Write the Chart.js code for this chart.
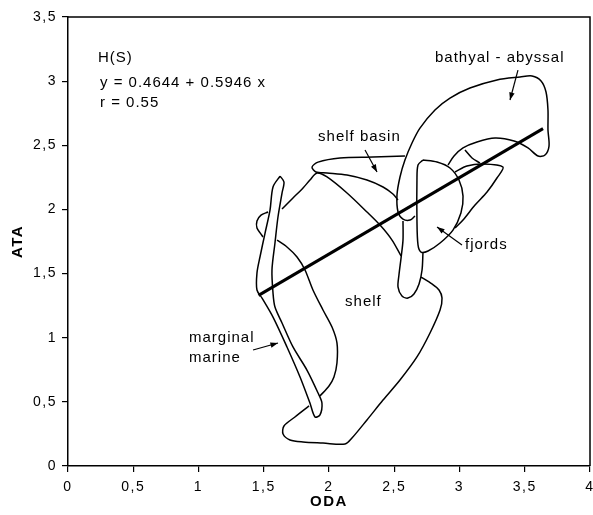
<!DOCTYPE html>
<html>
<head>
<meta charset="utf-8">
<script src="https://cdn.jsdelivr.net/npm/chart.js@4.4.1/dist/chart.umd.min.js"></script>
<style>
    html, body { margin: 0; padding: 0; background: #fff; }
    #grafico { display: block; }
</style>
</head>
<body>
<canvas id="grafico" width="593" height="515"></canvas>
<script>
// Contornos de los campos (ODA, ATA)
const marginalMarine = [
    [1.625, 2.260], [1.571, 2.175], [1.548, 1.995], [1.510, 1.816], [1.471, 1.629],
    [1.448, 1.504], [1.448, 1.372], [1.487, 1.309], [1.571, 1.161], [1.678, 0.928],
    [1.778, 0.694], [1.854, 0.491], [1.893, 0.382], [1.931, 0.398], [1.946, 0.491],
    [1.916, 0.569], [1.831, 0.748], [1.724, 0.928], [1.640, 1.115], [1.586, 1.239],
    [1.571, 1.348], [1.563, 1.528], [1.586, 1.738], [1.609, 1.941], [1.640, 2.128],
    [1.655, 2.214], [1.625, 2.260]
];
const shelfBump = [
    [1.533, 1.980], [1.479, 1.956], [1.448, 1.910], [1.448, 1.855], [1.479, 1.808], [1.494, 1.785]
];
const shelfUpper = [
    [1.640, 2.003], [1.724, 2.089], [1.801, 2.167], [1.854, 2.229], [1.908, 2.284],
    [1.985, 2.253], [2.138, 2.128], [2.291, 1.980], [2.391, 1.878], [2.483, 1.761], [2.552, 1.637]
];
const shelfLobe = [
    [2.567, 1.910], [2.567, 1.761], [2.552, 1.621], [2.536, 1.489], [2.529, 1.395],
    [2.559, 1.325], [2.605, 1.309], [2.651, 1.341], [2.690, 1.419], [2.713, 1.528], [2.720, 1.660]
];
const shelfLower = [
    [2.705, 1.473], [2.789, 1.419], [2.843, 1.372], [2.866, 1.309], [2.851, 1.216],
    [2.774, 1.037], [2.674, 0.850], [2.544, 0.670], [2.414, 0.514], [2.291, 0.359],
    [2.176, 0.218], [2.123, 0.171], [1.954, 0.179], [1.801, 0.187], [1.701, 0.203],
    [1.648, 0.249], [1.655, 0.312], [1.739, 0.382], [1.847, 0.468]
];
const shelfInner = [
    [1.931, 0.546], [2.000, 0.624], [2.038, 0.694], [2.061, 0.803], [2.061, 0.959],
    [2.023, 1.083], [1.954, 1.216], [1.877, 1.372], [1.816, 1.528], [1.755, 1.629],
    [1.678, 1.707], [1.602, 1.761]
];
const shelfBasin = [
    [2.582, 2.416], [2.337, 2.408], [2.084, 2.401], [1.916, 2.369], [1.870, 2.330],
    [1.900, 2.292], [1.985, 2.284], [2.138, 2.268], [2.291, 2.229], [2.414, 2.175],
    [2.490, 2.120], [2.529, 2.073]
];
const bathyal = [
    [2.659, 1.949], [2.621, 1.917], [2.567, 1.925], [2.529, 1.980], [2.521, 2.112],
    [2.544, 2.253], [2.582, 2.385], [2.636, 2.518], [2.697, 2.634], [2.812, 2.775],
    [2.927, 2.868], [3.080, 2.946], [3.287, 3.009], [3.464, 3.032], [3.556, 3.040],
    [3.625, 3.001], [3.663, 2.915], [3.678, 2.775], [3.678, 2.619], [3.686, 2.494],
    [3.655, 2.424], [3.602, 2.416], [3.525, 2.479], [3.418, 2.533], [3.272, 2.556],
    [3.134, 2.525], [3.027, 2.479], [2.958, 2.416], [2.912, 2.346]
];
const fjords = [
    [2.720, 2.385], [2.828, 2.369], [2.927, 2.323], [2.996, 2.229], [3.027, 2.104],
    [3.011, 1.972], [2.950, 1.839], [2.851, 1.738], [2.759, 1.676], [2.705, 1.668],
    [2.682, 1.723], [2.674, 1.917], [2.674, 2.229], [2.682, 2.346], [2.720, 2.385]
];
const wedge = [
    [2.966, 2.292], [3.057, 2.338], [3.180, 2.354], [3.333, 2.330], [3.287, 2.245],
    [3.211, 2.136], [3.119, 2.034], [3.027, 1.917], [2.966, 1.855]
];
const wedgeCross = [[3.042, 2.463], [3.096, 2.401], [3.157, 2.362]];

// Recta de regresion (extremos leidos)
const regression = [[1.46, 1.33], [3.64, 2.63]];

// Textos y flechas, en unidades de los ejes
const textos = [
    { texto: 'H(S)', x: 0.230, y: 3.180 },
    { texto: 'y = 0.4644 + 0.5946 x', x: 0.245, y: 2.985 },
    { texto: 'r = 0.55', x: 0.245, y: 2.829 },
    { texto: 'bathyal - abyssal', x: 2.812, y: 3.180 },
    { texto: 'shelf basin', x: 1.916, y: 2.564 },
    { texto: 'fjords', x: 3.042, y: 1.723 },
    { texto: 'shelf', x: 2.123, y: 1.278 },
    { texto: 'marginal', x: 0.927, y: 0.998 },
    { texto: 'marine', x: 0.927, y: 0.842 }
];
const flechas = [
    [3.448, 3.086, 3.387, 2.853],
    [2.276, 2.463, 2.368, 2.292],
    [3.019, 1.723, 2.828, 1.863],
    [1.418, 0.904, 1.609, 0.959]
];

function contorno(puntos, ancho, tension) {
    return {
        data: puntos.map(([x, y]) => ({ x: x, y: y })),
        showLine: true,
        fill: false,
        borderColor: '#000',
        borderWidth: ancho,
        pointRadius: 0,
        tension: tension
    };
}

function flecha(ctx, x1, y1, x2, y2) {
    const ang = Math.atan2(y2 - y1, x2 - x1);
    ctx.beginPath();
    ctx.moveTo(x1, y1);
    ctx.lineTo(x2, y2);
    ctx.stroke();
    ctx.beginPath();
    ctx.moveTo(x2, y2);
    ctx.lineTo(x2 - 8 * Math.cos(ang - 0.35), y2 - 8 * Math.sin(ang - 0.35));
    ctx.lineTo(x2 - 8 * Math.cos(ang + 0.35), y2 - 8 * Math.sin(ang + 0.35));
    ctx.closePath();
    ctx.fill();
}

const anotaciones = {
    id: 'anotaciones',
    beforeDraw(chart) {
        chart.ctx.letterSpacing = '1.5px';
    },
    afterDatasetsDraw(chart) {
        const { ctx, chartArea: a, scales: { x, y } } = chart;
        ctx.save();
        // marco superior y derecho
        ctx.strokeStyle = '#000';
        ctx.lineWidth = 1.5;
        ctx.beginPath();
        ctx.moveTo(a.left, a.top);
        ctx.lineTo(a.right, a.top);
        ctx.lineTo(a.right, a.bottom);
        ctx.stroke();

        ctx.fillStyle = '#000';
        ctx.font = '15px "Liberation Sans", Arial, sans-serif';
        ctx.letterSpacing = '1px';
        ctx.textBaseline = 'middle';
        ctx.textAlign = 'left';
        textos.forEach(t => ctx.fillText(t.texto, x.getPixelForValue(t.x), y.getPixelForValue(t.y)));

        ctx.lineWidth = 1.2;
        flechas.forEach(f => flecha(ctx,
            x.getPixelForValue(f[0]), y.getPixelForValue(f[1]),
            x.getPixelForValue(f[2]), y.getPixelForValue(f[3])));
        ctx.restore();
    }
};

const coma = v => String(v).replace('.', ',');

new Chart(document.getElementById('grafico').getContext('2d'), {
    type: 'scatter',
    data: {
        datasets: [
            contorno(marginalMarine, 1.5, 0.3),
            contorno(shelfBump, 1.5, 0.3),
            contorno(shelfUpper, 1.5, 0.3),
            contorno(shelfLobe, 1.5, 0.3),
            contorno(shelfLower, 1.5, 0.3),
            contorno(shelfInner, 1.5, 0.3),
            contorno(shelfBasin, 1.5, 0.3),
            contorno(bathyal, 1.5, 0.3),
            contorno(fjords, 1.5, 0.3),
            contorno(wedge, 1.5, 0.3),
            contorno(wedgeCross, 1.5, 0.3),
            contorno(regression, 3, 0)
        ]
    },
    options: {
        responsive: false,
        animation: false,
        layout: { padding: { left: 0, top: 17, right: 3, bottom: 0 } },
        plugins: {
            legend: { display: false },
            tooltip: { enabled: false }
        },
        scales: {
            x: {
                type: 'linear',
                min: 0,
                max: 4,
                afterFit: s => { s.height = 49; s.paddingLeft = 0; s.paddingRight = 0; },
                border: { color: '#000', width: 1.5 },
                grid: { drawOnChartArea: false, drawTicks: true, tickLength: 6, color: '#000', lineWidth: 1.2 },
                ticks: {
                    stepSize: 0.5,
                    padding: 7,
                    color: '#000',
                    font: { family: '"Liberation Sans", Arial, sans-serif', size: 14 },
                    callback: coma
                },
                title: {
                    display: true,
                    text: 'ODA',
                    color: '#000',
                    padding: { top: 0, bottom: 4 },
                    font: { family: '"Liberation Sans", Arial, sans-serif', size: 15, weight: 'bold' }
                }
            },
            y: {
                type: 'linear',
                min: 0,
                max: 3.5,
                afterFit: s => { s.width = 68; s.paddingTop = 0; s.paddingBottom = 0; },
                border: { color: '#000', width: 1.5 },
                grid: { drawOnChartArea: false, drawTicks: true, tickLength: 6, color: '#000', lineWidth: 1.2 },
                ticks: {
                    stepSize: 0.5,
                    padding: 5,
                    color: '#000',
                    font: { family: '"Liberation Sans", Arial, sans-serif', size: 14 },
                    callback: coma
                },
                title: {
                    display: true,
                    text: 'ATA',
                    color: '#000',
                    padding: { top: 9, bottom: 0 },
                    font: { family: '"Liberation Sans", Arial, sans-serif', size: 15, weight: 'bold' }
                }
            }
        }
    },
    plugins: [anotaciones]
});
</script>
</body>
</html>
